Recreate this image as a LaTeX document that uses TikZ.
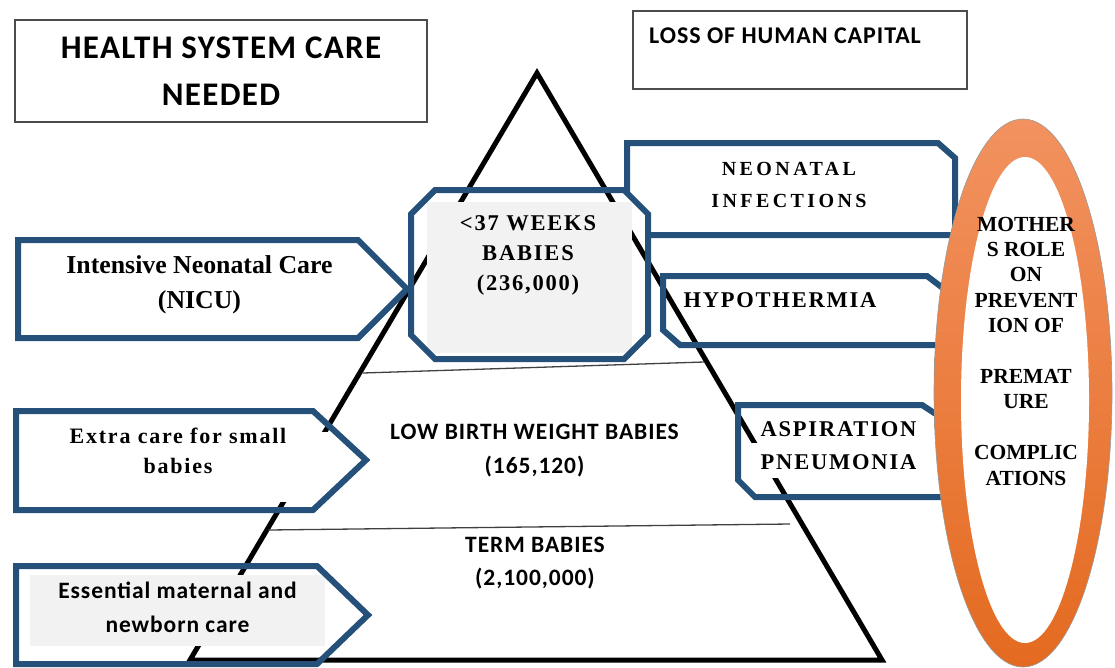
\documentclass[tikz,border=0pt]{standalone}
\usepackage{fontspec}
\setmainfont{Liberation Serif}
\newfontfamily\widecal[LetterSpace=4]{Carlito}
\newfontfamily\wideserif[LetterSpace=8]{Liberation Serif}
\newfontfamily\widerserif[LetterSpace=17]{Liberation Serif}

\definecolor{boxblue}{RGB}{36,80,122}
\definecolor{softgray}{RGB}{242,242,242}
\definecolor{ringtop}{RGB}{242,146,96}
\definecolor{ringbottom}{RGB}{228,106,32}

\tikzset{
  framebox/.style={draw=black!70, line width=1.3pt},
  bluebox/.style={draw=boxblue, line width=6pt, line join=miter},
  divider/.style={draw=black!75, line width=1.3pt},
  lbl/.style={align=center, inner sep=0pt}
}

\begin{document}
\begin{tikzpicture}[x=1pt,y=-1pt]
\useasboundingbox (0,0) rectangle (1115,667);

\draw[framebox] (15,20) rectangle (427,122);
\draw[framebox] (633,11) rectangle (967,89);

\draw[bluebox] (627,143) -- (938,143) -- (955,158) -- (955,235) -- (647,235) -- (627,215) -- cycle;
\fill[white] (435,190) -- (624,190) -- (648,214) -- (648,335) -- (624,359) -- (435,359) -- (411,335) -- (411,214) -- cycle;

\draw[line width=5pt, line join=miter] (537,73) -- (882,660) -- (190,660) -- cycle;
\draw[divider] (363,373) -- (704,362);
\draw[divider] (268,530) -- (790,524);

\fill[softgray] (427,202) rectangle (632,353);
\draw[bluebox] (435,190) -- (624,190) -- (648,214) -- (648,335) -- (624,359) -- (435,359) -- (411,335) -- (411,214) -- cycle;

\draw[bluebox] (18,240) -- (358,240) -- (407,289) -- (358,338) -- (18,338) -- cycle;
\fill[white] (30,432) rectangle (335,502);
\draw[bluebox] (16,411) -- (313,411) -- (366,460) -- (313,510) -- (16,510) -- cycle;
\fill[softgray] (30,575) rectangle (325,646);
\draw[bluebox] (16,566) -- (317,566) -- (368,615) -- (317,664) -- (16,664) -- cycle;

\draw[bluebox] (663,276) -- (927,276) -- (948,292) -- (948,345) -- (680,345) -- (663,330) -- cycle;
\fill[white] (745,443) rectangle (925,478);
\draw[bluebox] (738,405) -- (922,405) -- (945,420) -- (945,497) -- (755,497) -- (738,480) -- cycle;

\shade[top color=ringtop, bottom color=ringbottom, draw=black!40, line width=0.6pt] (1023,393) ellipse [x radius=89, y radius=274];
\fill[white] (1025,400) ellipse [x radius=64, y radius=243];

\node[lbl, font=\widecal\bfseries\fontsize{33}{47}\selectfont] (health) at (221,71.5) {HEALTH SYSTEM CARE\\NEEDED};
\node[lbl, font=\widecal\bfseries\fontsize{24}{28}\selectfont] (loss) at (785,36) {LOSS OF HUMAN CAPITAL};
\node[lbl, font=\wideserif\bfseries\fontsize{22.5}{30}\selectfont] (preterm) at (528,255) {<37 WEEKS\\BABIES\\(236,000)};
\node[lbl, font=\widerserif\bfseries\fontsize{20}{32.5}\selectfont] (infect) at (789,185) {NEONATAL\\INFECTIONS};
\node[lbl, font=\wideserif\bfseries\fontsize{22.5}{30}\selectfont] (hypo) at (780,300) {HYPOTHERMIA};
\node[lbl, font=\wideserif\bfseries\fontsize{22.5}{33}\selectfont] (aspir) at (838.5,446) {ASPIRATION\\PNEUMONIA};
\node[lbl, font=\bfseries\fontsize{25.8}{35}\selectfont] (nicu) at (199.5,285) {Intensive Neonatal Care\\(NICU)};
\node[lbl, font=\wideserif\bfseries\fontsize{22}{30}\selectfont] (extra) at (178,450.5) {Extra care for small\\babies};
\node[lbl, font=\widecal\bfseries\fontsize{23.5}{34}\selectfont] (essential) at (177.5,607.5) {Essential maternal and\\newborn care};
\node[lbl, font=\widecal\bfseries\fontsize{23.5}{34}\selectfont] (lowbirth) at (534.5,451) {LOW BIRTH WEIGHT BABIES\\(165,120)};
\node[lbl, font=\widecal\bfseries\fontsize{23.5}{32.5}\selectfont] (term) at (535,563) {TERM BABIES\\(2,100,000)};
\node[lbl, font=\bfseries\fontsize{21.5}{25.4}\selectfont] (mothers) at (1026,351) {MOTHER\\S ROLE\\ON\\PREVENT\\ION OF\\[25.4pt]PREMAT\\URE\\[25.4pt]COMPLIC\\ATIONS};
\end{tikzpicture}
\end{document}
